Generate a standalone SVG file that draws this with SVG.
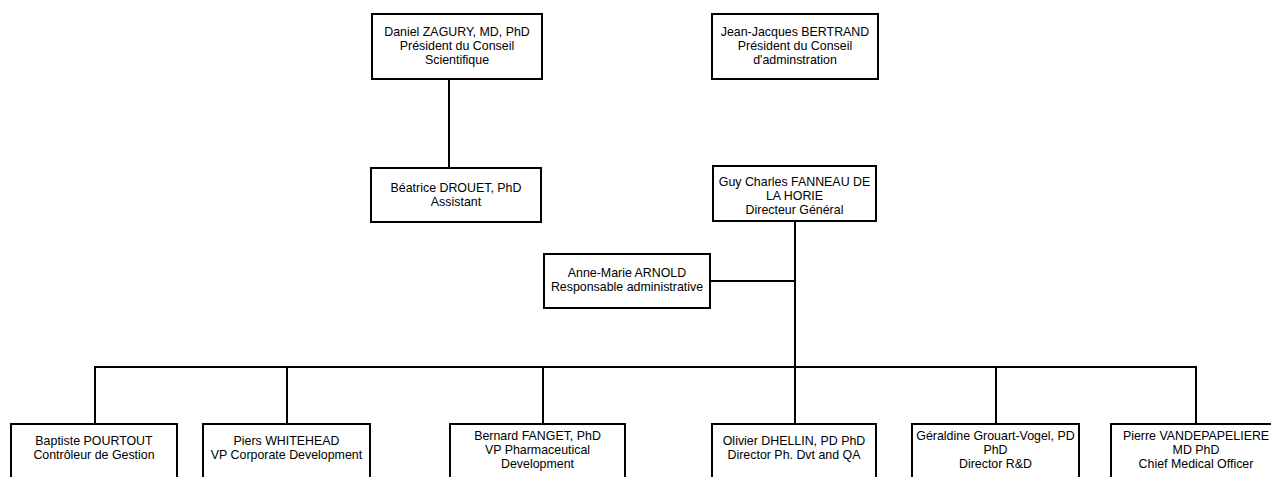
<svg xmlns="http://www.w3.org/2000/svg" width="1271" height="477" viewBox="0 0 1271 477">
<style>
.box{fill:#fff;stroke:#000;stroke-width:2}
.ln{fill:none;stroke:#000;stroke-width:2}
text{font-family:"Liberation Sans",Arial,sans-serif;font-size:12.4px;fill:#000;text-anchor:middle}
</style>
<rect width="1271" height="477" fill="#fff"/>
<g id="connectors">
<line class="ln" x1="449" y1="80" x2="449" y2="168"/>
<line class="ln" x1="795" y1="222" x2="795" y2="367"/>
<line class="ln" x1="710" y1="281" x2="795" y2="281"/>
<line class="ln" x1="94" y1="367" x2="1197" y2="367"/>
<line class="ln" x1="95" y1="367" x2="95" y2="424"/>
<line class="ln" x1="287" y1="367" x2="287" y2="424"/>
<line class="ln" x1="543" y1="367" x2="543" y2="424"/>
<line class="ln" x1="795" y1="367" x2="795" y2="424"/>
<line class="ln" x1="996" y1="367" x2="996" y2="424"/>
<line class="ln" x1="1196" y1="367" x2="1196" y2="424"/>
</g>
<g id="zagury">
<rect class="box" x="372" y="14" width="170" height="65"/>
<text x="457" y="36">Daniel ZAGURY, MD, PhD</text>
<text x="457" y="50">Président du Conseil</text>
<text x="457" y="64">Scientifique</text>
</g>
<g id="bertrand">
<rect class="box" x="712" y="14" width="166" height="65"/>
<text x="795" y="36">Jean-Jacques BERTRAND</text>
<text x="795" y="50">Président du Conseil</text>
<text x="795" y="64">d'adminstration</text>
</g>
<g id="drouet">
<rect class="box" x="371" y="168" width="170" height="54"/>
<text x="456" y="192">Béatrice DROUET, PhD</text>
<text x="456" y="206">Assistant</text>
</g>
<g id="fanneau">
<rect class="box" x="713" y="166" width="163" height="55"/>
<text x="794.5" y="186">Guy Charles FANNEAU DE</text>
<text x="794.5" y="200">LA HORIE</text>
<text x="794.5" y="214">Directeur Général</text>
</g>
<g id="arnold">
<rect class="box" x="544" y="254" width="166" height="54"/>
<text x="627" y="277">Anne-Marie ARNOLD</text>
<text x="627" y="291">Responsable administrative</text>
</g>
<g id="pourtout">
<rect class="box" x="11" y="424" width="166" height="60"/>
<text x="94" y="445">Baptiste POURTOUT</text>
<text x="94" y="459">Contrôleur de Gestion</text>
</g>
<g id="whitehead">
<rect class="box" x="203" y="424" width="167" height="60"/>
<text x="286.5" y="445">Piers WHITEHEAD</text>
<text x="286.5" y="459">VP Corporate Development</text>
</g>
<g id="fanget">
<rect class="box" x="450" y="424" width="175" height="60"/>
<text x="537.5" y="440">Bernard FANGET, PhD</text>
<text x="537.5" y="454">VP Pharmaceutical</text>
<text x="537.5" y="468">Development</text>
</g>
<g id="dhellin">
<rect class="box" x="712" y="424" width="164" height="60"/>
<text x="794" y="445">Olivier DHELLIN, PD PhD</text>
<text x="794" y="459">Director Ph. Dvt and QA</text>
</g>
<g id="grouart">
<rect class="box" x="912" y="424" width="167" height="60"/>
<text x="995.5" y="440">Géraldine Grouart-Vogel, PD</text>
<text x="995.5" y="454">PhD</text>
<text x="995.5" y="468">Director R&amp;D</text>
</g>
<g id="vandepapeliere">
<rect class="box" x="1111" y="424" width="172" height="60"/>
<text x="1196" y="440">Pierre VANDEPAPELIERE</text>
<text x="1196" y="454">MD PhD</text>
<text x="1196" y="468">Chief Medical Officer</text>
</g>
</svg>
